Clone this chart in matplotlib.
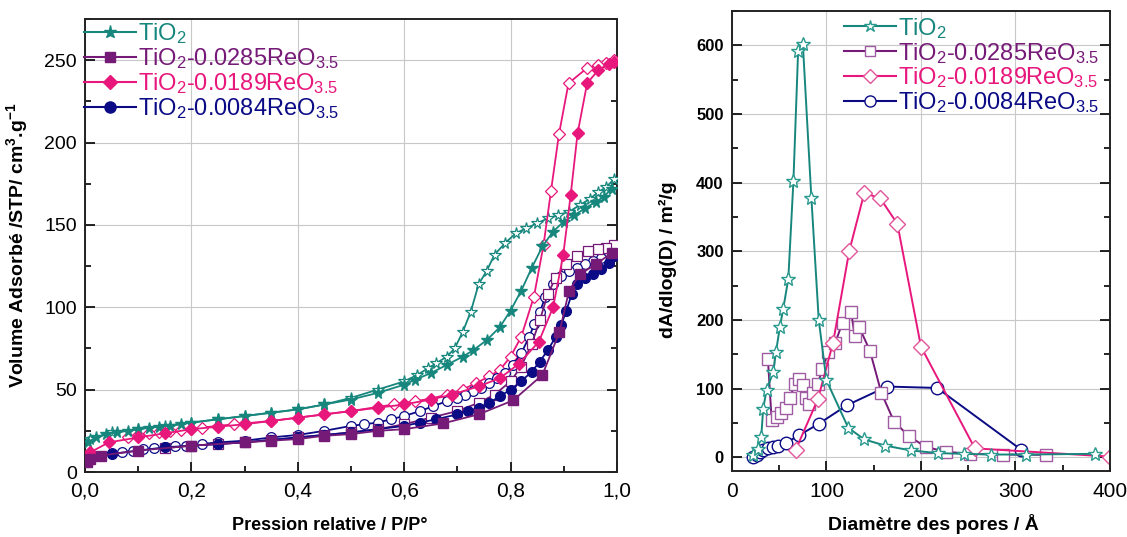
import matplotlib
matplotlib.use("Agg")
import matplotlib.pyplot as plt
from matplotlib.ticker import MultipleLocator, FuncFormatter

plt.rcParams['font.family'] = ['Liberation Sans', 'DejaVu Sans']
plt.rcParams['mathtext.default'] = 'regular'

# ---- isotherms (left) ----
tio2_ads_x = [0.005, 0.02, 0.04, 0.06, 0.08, 0.10, 0.12, 0.14, 0.16, 0.18, 0.20, 0.25, 0.30, 0.35, 0.40, 0.45, 0.50, 0.55, 0.60, 0.62, 0.65, 0.68, 0.71, 0.73, 0.755, 0.78, 0.80, 0.82, 0.84, 0.86, 0.88, 0.90, 0.92, 0.94, 0.96, 0.975, 0.99]
tio2_ads_y = [18, 21, 23, 24, 25, 26, 27, 27.5, 28, 29, 30, 32, 34, 36, 38, 41, 44, 48, 53, 56, 60, 65, 70, 74, 80, 88, 98, 110, 124, 137, 146, 152, 156, 160, 164, 167, 172]
tio2_des_x = [0.995, 0.98, 0.965, 0.95, 0.93, 0.91, 0.89, 0.87, 0.85, 0.83, 0.81, 0.79, 0.77, 0.755, 0.74, 0.725, 0.71, 0.695, 0.68, 0.66, 0.645, 0.625, 0.60, 0.55, 0.50, 0.45, 0.40, 0.35, 0.30, 0.25, 0.20, 0.15, 0.10, 0.05, 0.01]
tio2_des_y = [178, 173, 170, 166, 162, 158, 156, 154, 151, 148, 145, 139, 132, 122, 114, 97, 85, 75, 70, 66, 63, 59, 55, 50, 45, 41, 38, 36, 34, 32, 30, 28, 26, 24, 20]

re285_ads_x = [0.003, 0.01, 0.03, 0.10, 0.20, 0.30, 0.35, 0.40, 0.45, 0.50, 0.55, 0.60, 0.673, 0.74, 0.805, 0.86, 0.892, 0.91, 0.93, 0.96, 0.99]
re285_ads_y = [6, 8, 10, 13, 16, 18, 19, 20, 22, 23, 25, 26, 29.5, 35, 43.5, 59, 85, 110, 120, 126, 133]
re285_des_x = [0.995, 0.98, 0.965, 0.945, 0.925, 0.905, 0.885, 0.87, 0.855, 0.84, 0.82, 0.80, 0.77, 0.74, 0.70, 0.65, 0.60, 0.55, 0.50, 0.45, 0.40, 0.35, 0.30, 0.25, 0.20, 0.15]
re285_des_y = [138, 136, 135.5, 134, 131, 126, 118, 108, 92, 78, 64, 55, 47, 42, 37, 33, 29, 26, 24, 22.5, 21, 19.5, 18, 17, 16, 14.5]

re189_ads_x = [0.003, 0.01, 0.045, 0.10, 0.15, 0.20, 0.25, 0.30, 0.35, 0.40, 0.45, 0.50, 0.55, 0.60, 0.65, 0.69, 0.74, 0.78, 0.815, 0.853, 0.88, 0.899, 0.913, 0.926, 0.944, 0.965, 0.985, 0.995]
re189_ads_y = [10, 12, 18, 21, 23.5, 26, 27.5, 29, 31, 33, 35, 37, 39, 41, 44, 47, 52, 57, 65.5, 79, 100, 131.6, 168, 205.5, 236, 244, 247.5, 249]
re189_des_x = [0.995, 0.98, 0.965, 0.943, 0.909, 0.891, 0.876, 0.862, 0.844, 0.82, 0.80, 0.78, 0.76, 0.735, 0.71, 0.68, 0.65, 0.62, 0.58, 0.55, 0.50, 0.45, 0.40, 0.35, 0.30, 0.28, 0.25, 0.22, 0.20, 0.18, 0.16, 0.14, 0.12, 0.10, 0.08]
re189_des_y = [250, 248.5, 247, 245, 236, 205, 170.5, 137.7, 106.5, 82, 70, 62, 58, 54, 50, 47, 44.5, 43, 41, 39.5, 37, 35, 33, 31, 29.5, 29, 28, 27, 26, 25.5, 25, 24.5, 23.5, 22.5, 21]

re084_ads_x = [0.003, 0.01, 0.03, 0.05, 0.10, 0.15, 0.20, 0.25, 0.30, 0.35, 0.40, 0.45, 0.50, 0.55, 0.60, 0.63, 0.66, 0.70, 0.72, 0.74, 0.76, 0.78, 0.80, 0.82, 0.84, 0.855, 0.87, 0.885, 0.895, 0.905, 0.915, 0.925, 0.94, 0.955, 0.97, 0.985, 0.995]
re084_ads_y = [6, 8, 10, 11, 13, 15, 16, 17, 18, 19.5, 21, 22.5, 24, 26, 28, 30, 32, 35, 37, 39, 42, 46, 50, 55, 61, 67, 74, 82, 89, 98, 108, 114, 118, 120, 123, 127, 131]
re084_des_x = [0.995, 0.985, 0.97, 0.955, 0.94, 0.925, 0.91, 0.895, 0.88, 0.865, 0.855, 0.845, 0.835, 0.82, 0.805, 0.79, 0.775, 0.76, 0.745, 0.73, 0.715, 0.70, 0.68, 0.655, 0.63, 0.60, 0.575, 0.55, 0.525, 0.50, 0.45, 0.40, 0.35, 0.30, 0.25, 0.22, 0.19, 0.17, 0.15, 0.13, 0.11, 0.09, 0.07, 0.05]
re084_des_y = [137, 133, 130, 128, 126, 124, 122, 119, 114, 106, 97, 90, 82, 72, 65, 60, 57, 54, 51, 49, 47, 45, 43, 40, 37, 34, 32, 30, 29, 28, 25, 22.5, 21, 19, 18, 17, 16, 15.5, 15, 14.5, 14, 13, 12, 11.5]

# ---- pore size distributions (right) ----
psd_tio2_x = [22, 27, 31, 33, 36.6, 43.6, 46.5, 50.7, 54.2, 59.6, 65, 70, 75, 84, 91.8, 100, 123, 140, 162, 189, 218, 246, 274, 311, 384]
psd_tio2_y = [3, 12, 30, 71, 98, 124, 153, 190, 216, 260, 402, 592, 602, 378, 200, 112, 43, 26, 17, 10, 6, 5, 4, 4, 5]
psd_285_x = [38, 42, 48, 52, 57, 61, 66.5, 71, 75, 78, 82, 86, 91, 95.5, 102, 109, 117, 126, 130, 134.5, 146, 158, 171.5, 187, 205, 227, 252, 287, 332]
psd_285_y = [143, 54, 58, 64, 72, 86, 106, 114, 105, 87, 78, 94, 107, 129, 153, 166, 196, 212, 176, 190, 155, 94, 52, 31, 15, 8, 5, 4, 3.5]
psd_189_x = [67.5, 91, 107, 124, 140, 157, 175, 200, 257, 400]
psd_189_y = [11, 85, 167, 300, 385, 377, 340, 161, 13, 1]
psd_084_x = [22, 26, 29.5, 33, 38, 43.5, 49, 57, 71, 92, 122, 164, 217, 306]
psd_084_y = [0.5, 4, 8, 11, 13.6, 15, 16.5, 21, 32, 49, 76, 103, 101, 11]

labels = ['TiO$_2$', 'TiO$_2$-0.0285ReO$_{3.5}$', 'TiO$_2$-0.0189ReO$_{3.5}$', 'TiO$_2$-0.0084ReO$_{3.5}$']
colors = ['#17877d', '#761a78', '#e8177c', '#0b0b86']
mk = ['*', 's', 'D', 'o']

fig = plt.figure(figsize=(11.27, 5.37), dpi=100)
ax1 = fig.add_axes([0.0754, 0.1210, 0.4720, 0.8436])
ax2 = fig.add_axes([0.6495, 0.1229, 0.3354, 0.8566])

iso = [(tio2_ads_x, tio2_ads_y, tio2_des_x, tio2_des_y),
       (re285_ads_x, re285_ads_y, re285_des_x, re285_des_y),
       (re189_ads_x, re189_ads_y, re189_des_x, re189_des_y),
       (re084_ads_x, re084_ads_y, re084_des_x, re084_des_y)]
msz = [8.5, 6.5, 6.5, 7]
order = [0, 2, 3, 1]
for i in order:
    ax_, ay, dx, dy = iso[i]
    ax1.plot(dx, dy, '-', color=colors[i], lw=1.3, marker=mk[i], ms=msz[i],
             mfc='white', mec=colors[i], mew=0.9, zorder=3)
for i in order:
    ax_, ay, dx, dy = iso[i]
    ax1.plot(ax_, ay, '-', color=colors[i], lw=1.3, marker=mk[i], ms=msz[i],
             mfc=colors[i], mec=colors[i], zorder=4)

# legend handles (left)
h1 = [ax1.plot([], [], '-', color=colors[i], lw=1.5, marker=mk[i], ms=msz[i] + 1,
               mfc=colors[i], mec=colors[i])[0] for i in range(4)]
leg1 = ax1.legend(h1, labels, loc='upper left', bbox_to_anchor=(-0.01, 1.005), frameon=False,
                  fontsize=17, handlelength=2.2, handletextpad=0.05, labelspacing=0.0,
                  borderpad=0.2, borderaxespad=0)
for t, c in zip(leg1.get_texts(), colors):
    t.set_color(c)

ax1.set_xlim(0, 1.0)
ax1.set_ylim(0, 275)
ax1.xaxis.set_major_locator(MultipleLocator(0.2))
ax1.xaxis.set_minor_locator(MultipleLocator(0.1))
ax1.yaxis.set_major_locator(MultipleLocator(50))
ax1.yaxis.set_minor_locator(MultipleLocator(25))
ax1.xaxis.set_major_formatter(FuncFormatter(lambda v, p: f"{v:.1f}".replace('.', ',')))
ax1.tick_params(axis='x', which='major', labelsize=15, pad=7)
ax1.tick_params(axis='y', which='major', labelsize=14, pad=6)
ax1.set_xlabel('Pression relative / P/P°', fontsize=13, fontweight='bold')
ax1.set_ylabel('Volume Adsorbé /STP/ cm$^{3}$.g$^{-1}$', fontsize=14, fontweight='bold')
ax1.xaxis.set_label_coords(0.46, -0.1)
ax1.yaxis.set_label_coords(-0.103, 0.5)

# ---- right ----
psd = [(psd_tio2_x, psd_tio2_y), (psd_285_x, psd_285_y), (psd_189_x, psd_189_y), (psd_084_x, psd_084_y)]
mec2 = ['#2a9a8e', '#a05ca2', '#e2559a', '#0b0b86']
msz2 = [10, 8.5, 8.5, 9]
for i in [3, 1, 2, 0]:
    x, y = psd[i]
    ax2.plot(x, y, '-', color=colors[i], lw=1.4, marker=mk[i], ms=msz2[i],
             mfc='white', mec=mec2[i], mew=1.0)

h2 = [ax2.plot([], [], '-', color=colors[i], lw=1.5, marker=mk[i], ms=msz2[i] - 1,
               mfc='white', mec=mec2[i])[0] for i in range(4)]
leg2 = ax2.legend(h2, labels, loc='upper left', bbox_to_anchor=(0.285, 1.0), frameon=False,
                  fontsize=17, handlelength=2.2, handletextpad=0.05, labelspacing=0.0,
                  borderpad=0.2, borderaxespad=0)
for t, c in zip(leg2.get_texts(), colors):
    t.set_color(c)

ax2.set_xlim(0, 400)
ax2.set_ylim(-20, 650)
ax2.xaxis.set_major_locator(MultipleLocator(100))
ax2.xaxis.set_minor_locator(MultipleLocator(50))
ax2.yaxis.set_major_locator(MultipleLocator(100))
ax2.yaxis.set_minor_locator(MultipleLocator(50))
ax2.tick_params(axis='x', which='major', labelsize=15, pad=8)
ax2.tick_params(axis='y', which='major', labelsize=12, pad=6)
for t in ax2.get_yticklabels():
    t.set_fontweight('bold')
ax2.set_xlabel('Diamètre des pores / Å', fontsize=14, fontweight='bold')
ax2.set_ylabel('dA/dlog(D) / m²/g', fontsize=14, fontweight='bold')
ax2.xaxis.set_label_coords(0.534, -0.093)
ax2.yaxis.set_label_coords(-0.146, 0.459)

for a in (ax1, ax2):
    a.grid(True, which='major', color='#c8c8c8', lw=0.8, zorder=0)
    a.set_axisbelow(True)
    a.tick_params(which='both', direction='in', left=True, right=True, top=False, bottom=True, width=1.2)
    a.tick_params(which='major', length=7)
    a.tick_params(which='minor', length=4)
    for s in a.spines.values():
        s.set_linewidth(1.4)
        s.set_color('#222222')

fig.savefig('out.png', dpi=100)
